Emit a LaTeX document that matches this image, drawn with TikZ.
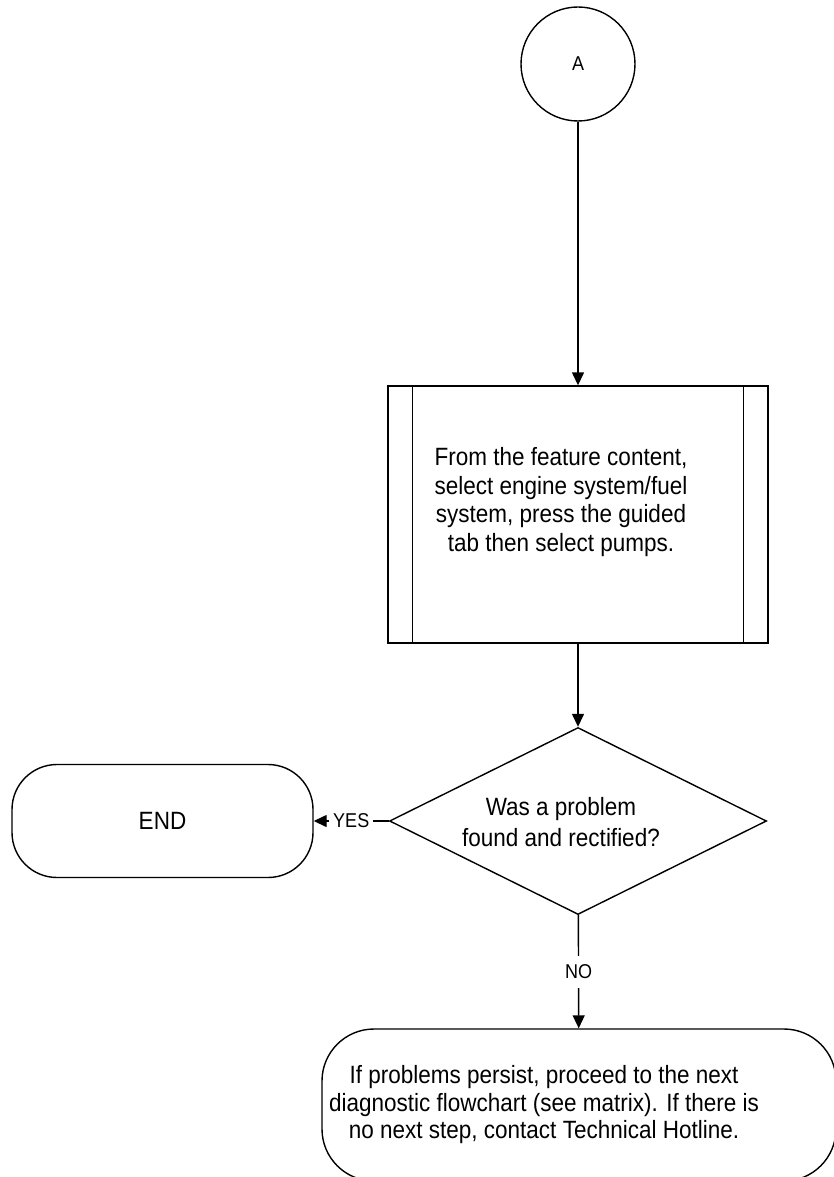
\documentclass[tikz,border=0pt]{standalone}
\usepackage{fontspec}
\setmainfont{Liberation Sans}[FakeStretch=0.9]
\usetikzlibrary{positioning}
\usetikzlibrary{shapes.geometric}
\usetikzlibrary{arrows.meta}

\begin{document}
\begin{tikzpicture}[x=1pt, y=-1pt, line width=1.4pt,
    every node/.style={font=\fontsize{25}{28.5}\selectfont},
    flecha/.style={-{Triangle[length=13pt,width=12pt]}},
    etiqueta/.style={fill=white, inner xsep=4pt, inner ysep=9pt, font=\fontsize{20}{22}\selectfont},
    terminal/.style={draw, rectangle}]
            \useasboundingbox (0,0) rectangle (833,1177);
            % Nodos
            \node[draw, circle, minimum size=114pt, inner sep=0pt, font=\fontsize{20}{22}\selectfont] (a) at (578,64) {A};
            \node[draw, rectangle, minimum width=380pt, minimum height=257pt] (proc) at (578,514.5) {};
            \node[align=center] (proctxt) at (561,502) {From the feature content,\\select engine system/fuel\\system, press the guided\\tab then select pumps.};
            \node[draw, diamond, minimum width=377pt, minimum height=187pt, inner sep=0pt] (dec) at (578,821) {};
            \node[align=center, font=\fontsize{25}{31}\selectfont] (dectxt) at (561,822) {Was a problem\\found and rectified?};
            \node[terminal, rounded corners=45pt, minimum width=301pt, minimum height=113pt] (fin) at (162.5,821) {END};
            \node[terminal, rounded corners=52pt, minimum width=514pt, minimum height=152pt] (sig) at (579,1105) {};
            \node[align=center, font=\fontsize{25}{27.5}\selectfont] (sigtxt) at (544,1105) {If problems persist, proceed to the next\\diagnostic flowchart (see matrix). If there is\\no next step, contact Technical Hotline.};

            % Aristas
            \draw[flecha] (a) -- (proc);
            \draw ([xshift=25pt]proc.north west) -- ([xshift=25pt]proc.south west);
            \draw ([xshift=-25pt]proc.north east) -- ([xshift=-25pt]proc.south east);
            \draw[flecha] (proc) -- (dec);
            \draw[flecha] (dec) -- node[etiqueta] {YES} (fin);
            \draw[flecha] (dec) -- node[etiqueta] {NO} (sig);
          \end{tikzpicture}
\end{document}
